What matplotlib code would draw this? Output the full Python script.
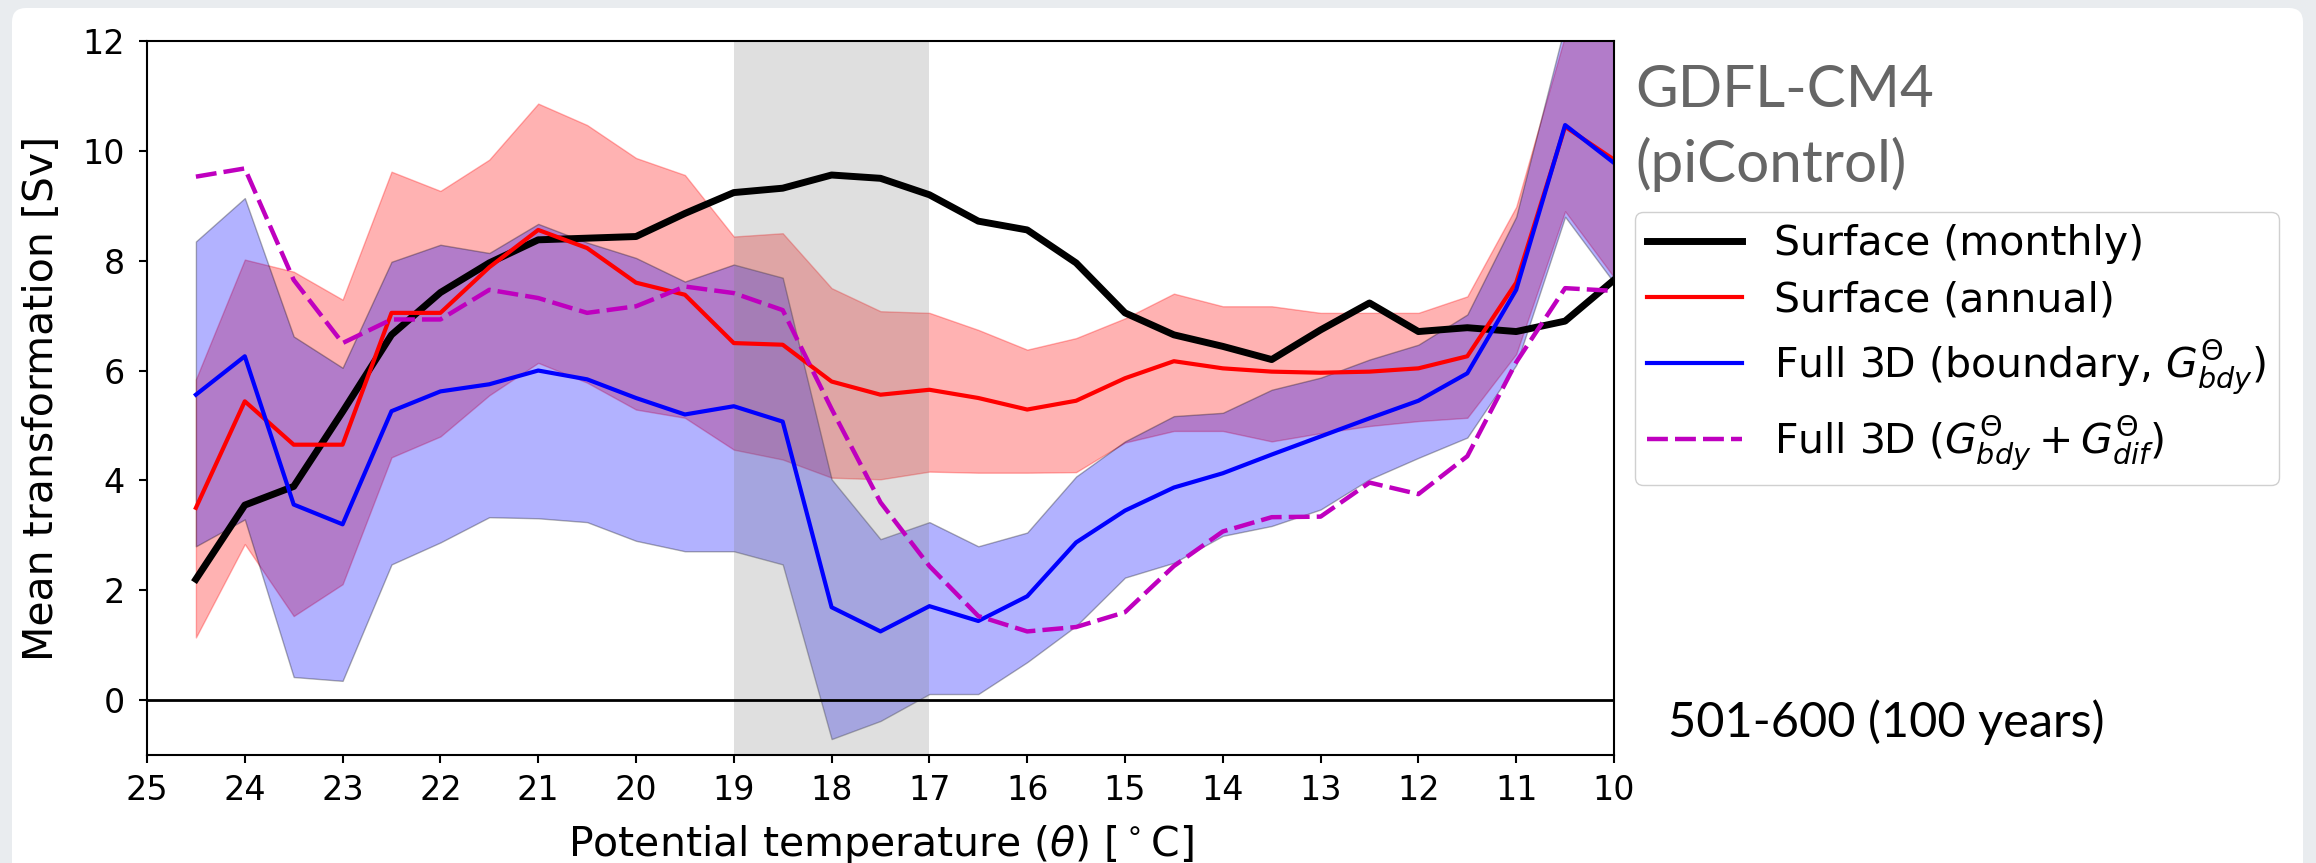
import matplotlib
matplotlib.use('Agg')
import matplotlib.pyplot as plt
from matplotlib.patches import FancyBboxPatch
from matplotlib.transforms import IdentityTransform

# potential temperature bins (deg C)
theta = [24.5, 24, 23.5, 23, 22.5, 22, 21.5, 21, 20.5, 20, 19.5, 19, 18.5, 18, 17.5,
         17, 16.5, 16, 15.5, 15, 14.5, 14, 13.5, 13, 12.5, 12, 11.5, 11, 10.5, 10]

# mean transformation [Sv]
surf_monthly = [2.2, 3.55, 3.89, 5.25, 6.65, 7.42, 7.96, 8.38, 8.41, 8.44, 8.86, 9.24, 9.32, 9.56, 9.5,
                9.2, 8.72, 8.56, 7.96, 7.05, 6.65, 6.44, 6.2, 6.74, 7.23, 6.71, 6.78, 6.71, 6.9, 7.65]
surf_annual = [3.5, 5.44, 4.65, 4.65, 7.05, 7.05, 7.88, 8.56, 8.23, 7.6, 7.38, 6.5, 6.47, 5.8, 5.56,
               5.65, 5.5, 5.29, 5.45, 5.86, 6.17, 6.04, 5.98, 5.96, 5.98, 6.04, 6.26, 7.6, 10.44, 9.84]
full_bdy = [5.56, 6.26, 3.56, 3.2, 5.26, 5.62, 5.75, 6.0, 5.84, 5.5, 5.2, 5.35, 5.07, 1.69, 1.25,
            1.71, 1.44, 1.89, 2.87, 3.45, 3.87, 4.13, 4.47, 4.8, 5.13, 5.45, 5.95, 7.47, 10.47, 9.78]
full_total = [9.53, 9.68, 7.65, 6.5, 6.93, 6.93, 7.47, 7.32, 7.05, 7.17, 7.53, 7.41, 7.1, 5.3, 3.6,
              2.44, 1.53, 1.25, 1.33, 1.6, 2.44, 3.07, 3.33, 3.34, 3.96, 3.75, 4.44, 6.15, 7.5, 7.45]

# spread of the annual surface estimate
annual_lo = [1.14, 2.84, 1.53, 2.11, 4.42, 4.8, 5.55, 6.14, 5.78, 5.29, 5.14, 4.56, 4.38, 4.05, 4.02,
             4.16, 4.14, 4.14, 4.15, 4.69, 4.9, 4.9, 4.71, 4.86, 4.99, 5.08, 5.14, 6.3, 8.9, 7.7]
annual_hi = [5.84, 8.02, 7.8, 7.29, 9.62, 9.27, 9.84, 10.86, 10.47, 9.87, 9.56, 8.44, 8.5, 7.5, 7.08,
             7.05, 6.74, 6.38, 6.59, 6.95, 7.4, 7.17, 7.17, 7.05, 7.05, 7.05, 7.35, 8.98, 12.1, 13.0]

# spread of the full 3D boundary estimate
bdy_lo = [2.8, 3.29, 0.42, 0.35, 2.47, 2.87, 3.33, 3.31, 3.24, 2.9, 2.71, 2.71, 2.47, -0.71, -0.38,
          0.11, 0.11, 0.69, 1.35, 2.23, 2.5, 2.99, 3.17, 3.47, 4.02, 4.41, 4.78, 6.1, 8.8, 7.6]
bdy_hi = [8.35, 9.14, 6.62, 6.05, 7.98, 8.29, 8.14, 8.67, 8.33, 8.05, 7.62, 7.93, 7.69, 4.02, 2.93,
          3.24, 2.8, 3.05, 4.07, 4.71, 5.17, 5.23, 5.65, 5.87, 6.2, 6.47, 7.02, 8.8, 12.3, 13.0]

W, H = 2316, 863
fig = plt.figure(figsize=(W / 100, H / 100), dpi=100, facecolor='#e9ecef')

# white slide panel behind everything
panel = FancyBboxPatch((12, -30), 2291, H - 8 + 30, boxstyle='round,pad=0,rounding_size=14',
                       transform=IdentityTransform(), facecolor='white', edgecolor='none', zorder=-10)
fig.patches.append(panel)

ax = fig.add_axes([147 / W, 108 / H, (1614 - 147) / W, (755 - 41) / H])

ax.fill_between(theta, annual_lo, annual_hi, color='r', alpha=0.3, linewidth=1)
ax.fill_between(theta, bdy_lo, bdy_hi, facecolor='b', edgecolor='k', alpha=0.3, linewidth=1)
ax.axvspan(19, 17, color='grey', alpha=0.25, linewidth=0)
ax.axhline(0, color='k', linewidth=2)

ax.plot(theta, surf_monthly, color='k', linewidth=5, label='Surface (monthly)')
ax.plot(theta, surf_annual, color='r', linewidth=3, label='Surface (annual)')
ax.plot(theta, full_bdy, color='b', linewidth=3, label=r'Full 3D (boundary, $G^{\Theta}_{bdy}$)')
ax.plot(theta, full_total, color='m', linewidth=3.2, linestyle='--', dashes=(4.7, 1.6),
        label=r'Full 3D ($G^{\Theta}_{bdy} + G^{\Theta}_{dif}$)')

ax.set_xlim(25, 10)
ax.set_ylim(-1, 12)
ax.set_xticks(range(25, 9, -1))
ax.set_yticks([0, 2, 4, 6, 8, 10, 12])
ax.tick_params(labelsize=24, length=6, width=1.5, pad=8)
ax.tick_params(axis='y', pad=10)
for s in ax.spines.values():
    s.set_linewidth(1.5)

ax.set_xlabel(r'Potential temperature ($\theta$) [$^\circ$C]', fontsize=29.5)
ax.set_ylabel('Mean transformation [Sv]', fontsize=29.5)
ax.xaxis.set_label_coords(0.5, -0.095)
ax.yaxis.set_label_coords(-0.058, 0.5)

leg = ax.legend(loc='upper left', bbox_to_anchor=(1635 / W, 1 - 212 / H),
                bbox_transform=fig.transFigure, borderaxespad=0, fontsize=29.5,
                handlelength=2.3, framealpha=1, edgecolor='#d0d0d0',
                labelspacing=0.4, borderpad=0.3)

fig.text(1635 / W, 1 - 107 / H, 'GDFL-CM4', fontsize=42, family='Lato',
         color='#666666', va='baseline')
fig.text(1635 / W, 1 - 182 / H, '(piControl)', fontsize=42, family='Lato',
         color='#666666', va='baseline')
fig.text(1668 / W, 1 - 737 / H, '501-600 (100 years)', fontsize=35, family='Lato',
         color='black', va='baseline')

fig.savefig('out.png', dpi=100, facecolor=fig.get_facecolor())
